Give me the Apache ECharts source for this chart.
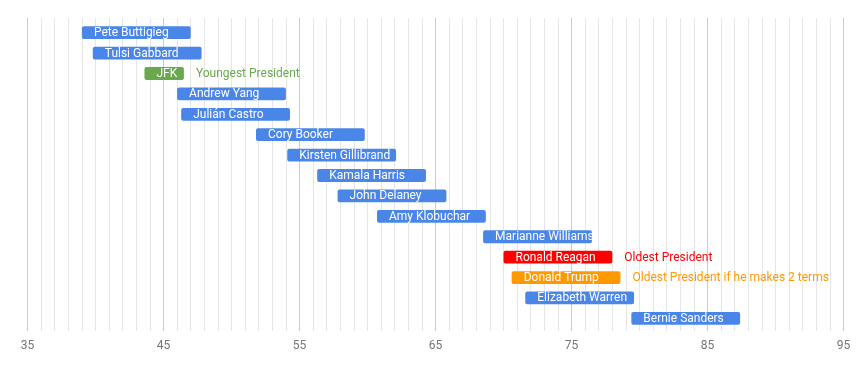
<!DOCTYPE html>
<html>
<head>
<meta charset="utf-8">
<script src="https://cdn.jsdelivr.net/npm/echarts@6/dist/echarts.min.js"></script>
<style>html,body{margin:0;padding:0;background:#fff}#c{width:862px;height:371px}</style>
</head>
<body>
<div id="c"></div>
<script>
const names = ['Pete Buttigieg','Tulsi Gabbard','JFK','Andrew Yang','Julián Castro','Cory Booker','Kirsten Gillibrand','Kamala Harris','John Delaney','Amy Klobuchar','Marianne Williamson','Ronald Reagan','Donald Trump','Elizabeth Warren','Bernie Sanders'];
const startAges = [39.0, 39.8, 43.6, 46.0, 46.3, 51.8, 54.1, 56.3, 57.8, 60.7, 68.5, 70.0, 70.6, 71.6, 79.4];
const endAges   = [47.0, 47.8, 46.5, 54.0, 54.3, 59.8, 62.1, 64.3, 65.8, 68.7, 76.5, 78.0, 78.6, 79.6, 87.4];
const notes = ['', '', 'Youngest President', '', '', '', '', '', '', '', '', 'Oldest President', 'Oldest President if he makes 2 terms', '', ''];
const barColors = ['#4a86e8','#4a86e8','#6aa84f','#4a86e8','#4a86e8','#4a86e8','#4a86e8','#4a86e8','#4a86e8','#4a86e8','#4a86e8','#ff0000','#ff9900','#4a86e8','#4a86e8'];
const xTicks = [35, 45, 55, 65, 75, 85, 95];

const data = names.map((n, i) => [i, startAges[i], endAges[i]]);
const font = '12px Roboto';

const chart = echarts.init(document.getElementById('c'), null, {renderer: 'canvas'});
chart.setOption({
  animation: false,
  grid: {left: 27.5, right: 18.5, top: 18, bottom: 40},
  xAxis: {
    type: 'value', min: xTicks[0], max: xTicks[xTicks.length - 1], interval: 10,
    axisLine: {show: false}, axisTick: {show: false},
    axisLabel: {color: '#757575', fontSize: 12, fontFamily: 'Roboto', margin: 9},
    splitLine: {show: true, lineStyle: {color: '#cccccc', width: 1}},
    minorTick: {show: false, splitNumber: 10},
    minorSplitLine: {show: true, lineStyle: {color: '#e6e6e6', width: 1}}
  },
  yAxis: {
    type: 'value', inverse: true, min: -0.72, max: 14.62, show: false,
    splitLine: {show: false}
  },
  series: [{
    type: 'custom',
    clip: false,
    encode: {x: [1, 2], y: 0},
    data: data,
    renderItem: function (params, api) {
      const i = api.value(0);
      const p0 = api.coord([api.value(1), i]);
      const p1 = api.coord([api.value(2), i]);
      const h = 12.8;
      const w = p1[0] - p0[0];
      const children = [
        {type: 'rect', shape: {x: p0[0], y: p0[1] - h / 2, width: w, height: h, r: 2},
         style: {fill: barColors[i]}},
        {type: 'group',
         clipPath: {type: 'rect', shape: {x: p0[0], y: p0[1] - h, width: w, height: 2 * h}},
         children: [
           {type: 'text', style: {x: p0[0] + 12, y: p0[1] + 0.5, text: names[i], fill: '#ffffff',
             font: font, verticalAlign: 'middle', align: 'left'}}
         ]}
      ];
      if (notes[i]) {
        children.push({type: 'text', style: {x: p1[0] + 12, y: p0[1] + 0.5, text: notes[i], fill: barColors[i],
          font: font, verticalAlign: 'middle', align: 'left'}});
      }
      return {type: 'group', children: children};
    }
  }]
});
</script>
</body>
</html>
